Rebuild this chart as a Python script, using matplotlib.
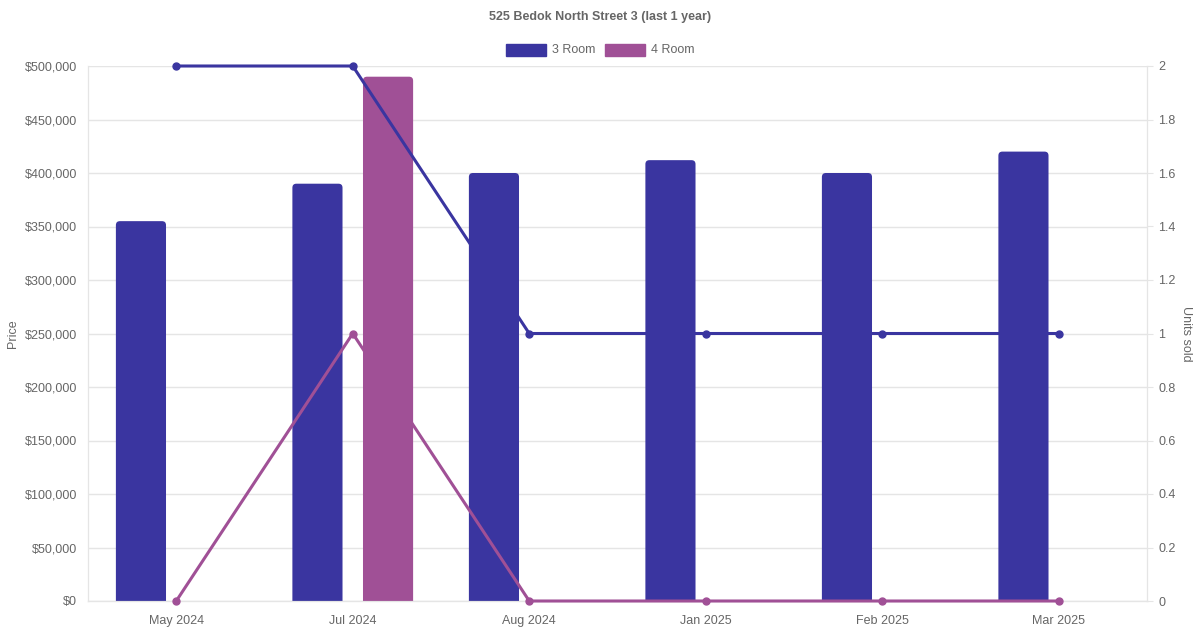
"""
Bedok North Street 3 price / units-sold chart
"""

import matplotlib
matplotlib.use('Agg')
import matplotlib.pyplot as plt
import numpy as np
from matplotlib.patches import FancyBboxPatch
from matplotlib.ticker import FuncFormatter

months = ["May 2024", "Jul 2024", "Aug 2024", "Jan 2025", "Feb 2025", "Mar 2025"]
price_3room = [355000, 390000, 400000, 412000, 400000, 420000]
price_4room = [None, 490000, None, None, None, None]
units_3room = [2, 2, 1, 1, 1, 1]
units_4room = [0, 1, 0, 0, 0, 0]

c3 = "#3a35a0"
c4 = "#a05096"
text_col = "#666666"
grid_col = "#e5e5e5"

plt.rcParams['font.family'] = ['Liberation Sans', 'DejaVu Sans']

fig = plt.figure(figsize=(12, 6.3), dpi=100)
ax = fig.add_axes([88 / 1200, 29 / 630, (1147 - 88) / 1200, (601 - 66) / 630])
ax2 = ax.twinx()

x = np.arange(len(months))
bw = 0.284
off = 0.2
ymax = 500000

ax.set_xlim(-0.5, len(months) - 0.5)
ax.set_ylim(0, ymax)

# pixel sizes in data units, used to round bar tops
px_x = len(months) / 1059
px_y = ymax / 535


def rounded_bar(xc, h, color):
    # start a bit below zero so the bottom corners are clipped away
    base = -6 * px_y
    p = FancyBboxPatch((xc - bw / 2, base), bw, h - base,
                       boxstyle=f"round,pad=0,rounding_size={4 * px_x}",
                       mutation_aspect=px_y / px_x,
                       facecolor=color, edgecolor='none', zorder=2)
    ax.add_patch(p)


for xi, v in zip(x, price_3room):
    rounded_bar(xi - off, v, c3)
for xi, v in zip(x, price_4room):
    if v is not None:
        rounded_bar(xi + off, v, c4)

ax.set_yticks(np.arange(0, ymax + 1, 50000))
ax.yaxis.set_major_formatter(FuncFormatter(lambda v, p: f"${int(v):,}"))
ax.set_xticks(x)
ax.set_xticklabels(months)
ax.grid(axis='y', color=grid_col, linewidth=1, zorder=0)
ax.set_axisbelow(True)
ax.tick_params(axis='x', length=0, pad=10, labelsize=9, labelcolor=text_col)
ax.tick_params(axis='y', length=0, pad=8, labelsize=9, labelcolor=text_col)
ax.set_ylabel("Price", color=text_col, fontsize=9, labelpad=4)

ax2.plot(x, units_3room, color=c3, linewidth=2.2, marker='o', markersize=5, zorder=3, clip_on=False)
ax2.plot(x, units_4room, color=c4, linewidth=2.2, marker='o', markersize=5, zorder=3, clip_on=False)
ax2.set_ylim(0, 2)
ax2.set_yticks(np.arange(0, 2.01, 0.2))
ax2.yaxis.set_major_formatter(FuncFormatter(lambda v, p: f"{v:.1f}".rstrip('0').rstrip('.')))
ax2.tick_params(axis='y', length=4, color=grid_col, pad=4, labelsize=9, labelcolor=text_col)
ax2.set_ylabel("Units sold", color=text_col, fontsize=9, rotation=-90, labelpad=12)

for a in (ax, ax2):
    for s in a.spines.values():
        s.set_color(grid_col)
    a.spines['top'].set_visible(False)
ax.spines['bottom'].set_color("#cccccc")
ax.spines['bottom'].set_zorder(4)

fig.text(0.5, 1 - 17 / 630, "525 Bedok North Street 3 (last 1 year)", ha='center', va='center',
         fontsize=9, fontweight='bold', color=text_col)

# legend boxes
fig.patches.append(plt.Rectangle((506 / 1200, 1 - 56 / 630), 40 / 1200, 12 / 630,
                                 transform=fig.transFigure, color=c3))
fig.text(552 / 1200, 1 - 50 / 630, "3 Room", va='center', fontsize=9, color=text_col)
fig.patches.append(plt.Rectangle((605 / 1200, 1 - 56 / 630), 40 / 1200, 12 / 630,
                                 transform=fig.transFigure, color=c4))
fig.text(651 / 1200, 1 - 50 / 630, "4 Room", va='center', fontsize=9, color=text_col)

fig.savefig("out.png", dpi=100, facecolor='white')
